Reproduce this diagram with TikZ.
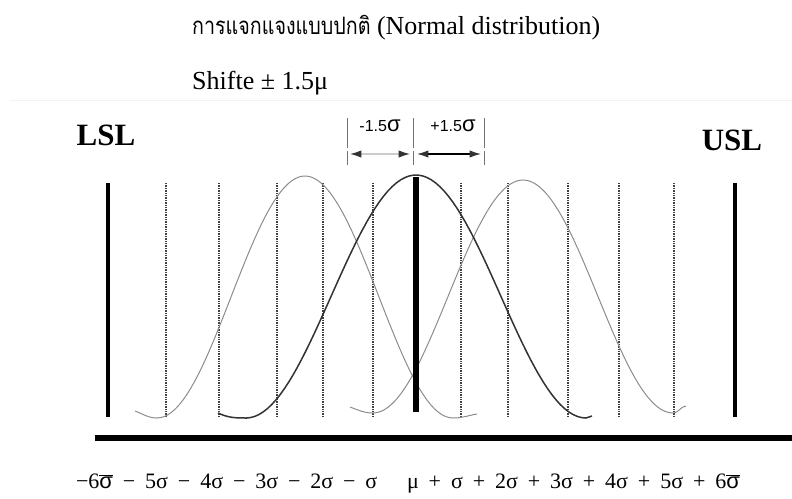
\documentclass[tikz,border=0pt]{standalone}
\usepackage{graphicx}
\usepackage{fontspec}
\setmainfont{Liberation Serif}
\setsansfont{Liberation Sans}
\newfontfamily\thaifont[Script=Thai]{Loma}
\usetikzlibrary{arrows.meta,calc}
\newcommand\barsig{$\overline{\mbox{\sffamily σ}}$}
\newcommand\widespaces{\spaceskip=0.45em\relax}
\tikzset{
  text-plain/.style={inner sep=0pt,anchor=base west,font=\fontsize{26}{26}\selectfont},
  spec-label/.style={inner sep=0pt,font=\bfseries\fontsize{31}{31}\selectfont},
  spec-line/.style={line width=4.5pt,draw=black},
  sigma-line/.style={densely dotted,line width=1.4pt,draw=black!75},
  curve-shift/.style={draw=black!45,line width=1pt},
  curve-main/.style={draw=black!80,line width=1.5pt},
  dim-bar/.style={draw=black!55,line width=1pt,dash pattern=on 30pt off 3pt on 14pt},
  dim-label/.style={inner sep=0pt,font=\sffamily\fontsize{16}{16}\selectfont},
  dim-arrow/.style={{Latex[length=4mm,width=2.6mm,color=black!80]}-{Latex[length=4mm,width=2.6mm,color=black!80]},line width=1.3pt},
  axis-label/.style={inner sep=0pt,anchor=base,font=\fontsize{22}{22}\selectfont\widespaces},
}

\begin{document}
\begin{tikzpicture}[x=1pt,y=-1pt]
  \useasboundingbox (0,0) rectangle (792,498);
  % headings
  \node[text-plain] (title) at (192,34)
    {\scalebox{0.82}[1]{\fontsize{24}{24}\thaifont การแจกแจงแบบปกติ} (Normal distribution)};
  \node[text-plain] (shift) at (192,89) {Shifte ± 1.5μ};
  \draw[black!5,line width=0.6pt] (10,100) -- (792,100);
  % spec limits
  \node[spec-label] (lsl) at (106,135) {LSL};
  \node[spec-label] (usl) at (732,140) {USL};
  \draw[spec-line] (108,183) -- (108,417);
  \draw[spec-line] (735,183) -- (735,417);
  % sigma grid
  \foreach \xs in {166,219,277,323,373,461,508,568,619,674}
    \draw[sigma-line] (\xs,183) -- (\xs,416);
  % curves shifted by -1.5 and +1.5
  \draw[curve-shift] (135,411) to[out=-20,in=180] (157,418)
    -- plot[domain=-148:148,samples=80] ({305+\x},{418-121*(1+cos(1.2162*\x))})
    to[out=0,in=190] (477,414);
  \draw[curve-shift] (350,407) to[out=-20,in=180] (373,413)
    -- plot[domain=-150:150,samples=80] ({523+\x},{413-116.5*(1+cos(1.2*\x))})
    to[out=0,in=185] (686,406);
  % centred curve
  \draw[curve-main] (218,413) to[out=-25,in=180] (246,418)
    -- plot[domain=-170:170,samples=80] ({416+\x},{418-121.5*(1+cos(1.0588*\x))})
    -- (592,416);
  \draw[line width=6pt] (416,177) -- (416,412);
  % shift markers
  \coordinate (dim-l) at (347,118);
  \coordinate (dim-m) at (413,118);
  \coordinate (dim-r) at (484,118);
  \foreach \d in {dim-l,dim-m,dim-r}
    \draw[dim-bar] (\d) -- ++(0,47);
  \node[dim-label] (minus-lbl) at (380,126) {-1.5{\fontsize{22}{22}\selectfont σ}};
  \node[dim-label] (plus-lbl) at (453,126) {+1.5{\fontsize{22}{22}\selectfont σ}};
  \draw[dim-arrow,draw=black!20] ($(dim-l)+(3,36)$) -- ($(dim-m)+(-3,36)$);
  \draw[dim-arrow] ($(dim-m)+(4,36)$) -- ($(dim-r)+(-3,36)$);
  % axis
  \draw[line width=6pt] (95,438) -- (792,438);
  \node[axis-label] (axis) at (408,488)
    {−6\barsig{} − 5σ − 4σ − 3σ − 2σ − σ \ \ μ + σ + 2σ + 3σ + 4σ + 5σ + 6\barsig};
\end{tikzpicture}
\end{document}
